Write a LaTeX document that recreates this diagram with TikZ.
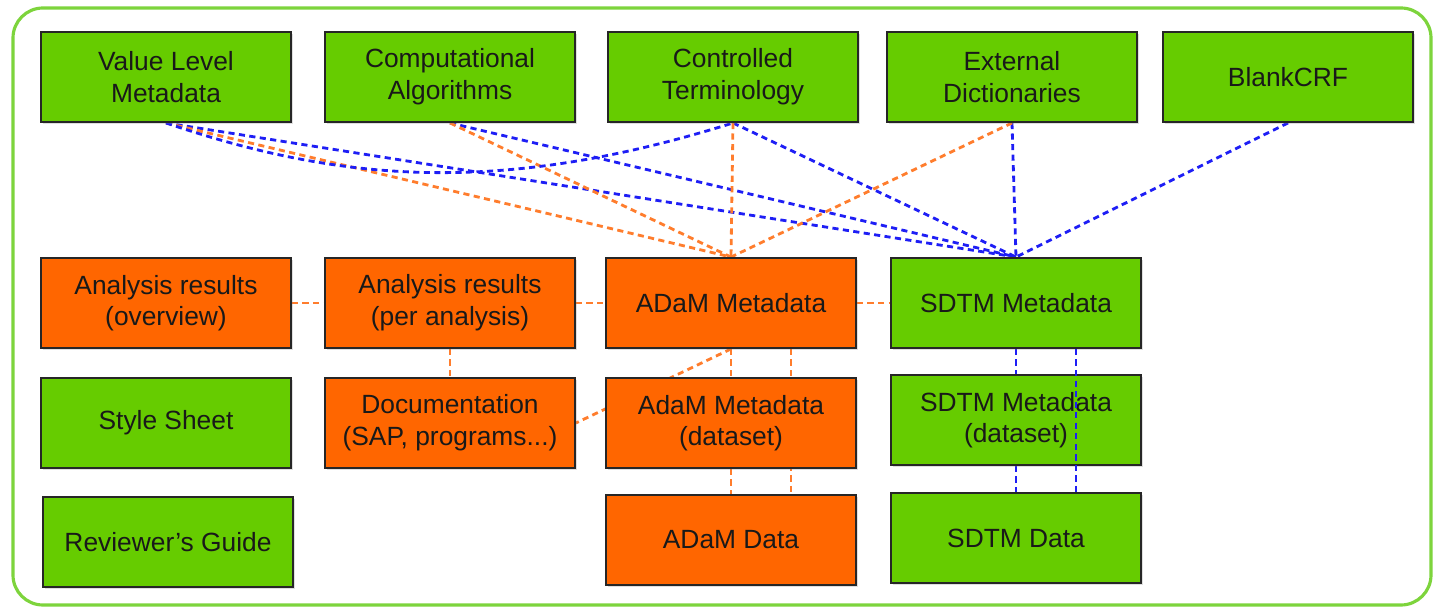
\documentclass[tikz,border=0pt]{standalone}
\usepackage{fontspec}
\setmainfont{Liberation Sans}
\usetikzlibrary{backgrounds,shadows}
\definecolor{boxgreen}{RGB}{102,204,0}
\definecolor{boxorange}{RGB}{255,102,0}
\definecolor{linkblue}{RGB}{30,30,245}
\definecolor{linkorange}{RGB}{255,125,45}
\definecolor{framegreen}{RGB}{125,212,60}

\begin{document}
\begin{tikzpicture}[x=0.02cm, y=-0.02cm,
	box/.style={draw=black!85, line width=1.1pt, minimum width=5cm, minimum height=1.8cm,
		inner sep=0pt, align=center, font=\fontsize{15}{18}\selectfont, text=black!90,
		drop shadow={opacity=0.25, shadow xshift=1pt, shadow yshift=-1pt}},
	gbox/.style={box, fill=boxgreen},
	obox/.style={box, fill=boxorange},
	blink/.style={draw=linkblue, line width=1.6pt, dash pattern=on 3.5pt off 2.5pt},
	olink/.style={draw=linkorange, line width=1.6pt, dash pattern=on 3.5pt off 2.5pt}]
	\useasboundingbox (0,0) rectangle (1434,607);
	\draw[framegreen, line width=1.8pt, rounded corners=0.6cm] (13,8) rectangle (1431,605);
	\node[gbox] (T0) at (166,77) {Value Level\\Metadata};
	\node[gbox] (T1) at (450,77) {Computational\\Algorithms};
	\node[gbox] (T2) at (733,77) {Controlled\\Terminology};
	\node[gbox] (T3) at (1012,77) {External\\Dictionaries};
	\node[gbox] (T4) at (1288,77) {BlankCRF};
	\node[obox] (S0) at (166,303) {Analysis results\\(overview)};
	\node[obox] (S1) at (450,303) {Analysis results\\(per analysis)};
	\node[obox] (S2) at (731,303) {ADaM Metadata};
	\node[gbox] (S3) at (1016,303) {SDTM Metadata};
	\node[gbox] (D0) at (166,423) {Style Sheet};
	\node[obox] (D1) at (450,423) {Documentation\\(SAP, programs...)};
	\node[obox] (D2) at (731,423) {AdaM Metadata\\(dataset)};
	\node[gbox] (D3) at (1016,420) {SDTM Metadata\\(dataset)};
	\node[gbox] (R0) at (168,542) {Reviewer’s Guide};
	\node[obox] (R2) at (731,540) {ADaM Data};
	\node[gbox] (R3) at (1016,538) {SDTM Data};
	\begin{scope}[on background layer]
		\foreach \n in {T0,T1,T2,T3,T4}
			\draw[blink] (\n.south) -- (S3.north);
		\foreach \n in {T0,T1,T2,T3}
			\draw[olink] (\n.south) -- (S2.north);
		\draw[blink] (T0.south) .. controls (340,182) and (500,196) .. (T2.south);
		\draw[olink] (S0.east) -- (S1.west);
		\draw[olink] (S1.east) -- (S2.west);
		\draw[olink] (S2.east) -- (S3.west);
		\draw[olink] (S1.south) -- (D1.north);
		\draw[olink] (S2.south) -- (D1.east);
		\draw[olink] (S2.south) -- (D2.north);
		\draw[olink] ([xshift=1.2cm]S2.south) -- ([xshift=1.2cm]R2.north);
		\draw[olink] (D2.south) -- (R2.north);
		\draw[blink] (S3.south) -- (D3.north);
		\draw[blink] (D3.south) -- (R3.north);
	\end{scope}
	\draw[blink] ([xshift=1.2cm]S3.south) -- ([xshift=1.2cm]R3.north);
\end{tikzpicture}
\end{document}
